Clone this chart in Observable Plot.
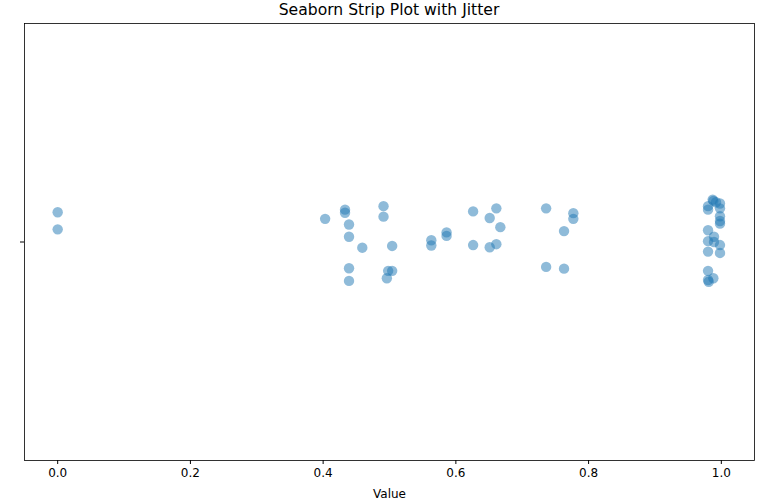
<!DOCTYPE html>
<html>
<head>
<meta charset="utf-8">
<script src="https://cdn.jsdelivr.net/npm/d3@7"></script>
<script src="https://cdn.jsdelivr.net/npm/@observablehq/plot@0.6"></script>
<style>
  html, body { margin: 0; padding: 0; background: #fff; }
  #title { height: 22px; width: 761px; position: relative; font-family: "DejaVu Sans", sans-serif; font-size: 15.6px; color: #000; }
  #title span { position: absolute; left: 389px; top: 1px; transform: translateX(-50%); white-space: nowrap; }
  svg { display: block; }
</style>
</head>
<body>
<div id="title"><span id="titletext"></span></div>
<div id="chart"></div>
<script>
const title = "Seaborn Strip Plot with Jitter";
const xLabel = "Value";
const xTicks = [0, 0.2, 0.4, 0.6, 0.8, 1.0];
const values = [
  0.000, 0.000, 0.403, 0.433, 0.433, 0.439, 0.439, 0.459, 0.439, 0.439,
  0.491, 0.491, 0.504, 0.498, 0.504, 0.496, 0.563, 0.563, 0.586, 0.586,
  0.626, 0.626, 0.661, 0.651, 0.667, 0.651, 0.661, 0.736, 0.736, 0.777,
  0.777, 0.763, 0.763, 0.987, 0.988, 0.980, 0.980, 0.998, 0.998, 0.992,
  0.998, 0.998, 0.998, 0.980, 0.989, 0.980, 0.989, 0.998, 0.980, 0.998,
  0.980, 0.980, 0.988, 0.981
];
const jitter = [
  -0.068, -0.029, -0.053, -0.074, -0.067, -0.040, -0.012, 0.013, 0.060, 0.089,
  -0.082, -0.058, 0.009, 0.066, 0.066, 0.083, -0.004, 0.008, -0.022, -0.014,
  -0.070, 0.007, -0.077, -0.055, -0.034, 0.012, 0.005, -0.077, 0.057, -0.066,
  -0.053, -0.025, 0.061, -0.097, -0.094, -0.082, -0.074, -0.088, -0.077, -0.091,
  -0.059, -0.048, -0.042, -0.027, -0.012, -0.002, 0.000, 0.007, 0.022, 0.025,
  0.066, 0.087, 0.083, 0.091
];

document.getElementById("titletext").textContent = title;
const data = values.map((v, i) => ({value: v, j: jitter[i]}));

const chart = Plot.plot({
  width: 761,
  height: 479,
  marginTop: 1,
  marginLeft: 24,
  marginRight: 7,
  marginBottom: 41,
  style: {fontFamily: "DejaVu Sans, sans-serif", fontSize: "12px", color: "#000", background: "#fff"},
  x: {domain: [-0.05, 1.05]},
  y: {domain: [-0.5, 0.5], reverse: true},
  marks: [
    Plot.frame({stroke: "#000", strokeWidth: 0.8}),
    Plot.axisX({ticks: xTicks, tickFormat: d3.format(".1f"), tickSize: 4, tickPadding: 4, fontSize: 12,
                label: xLabel, labelAnchor: "center", labelArrow: "none", labelOffset: 37}),
    Plot.axisY({ticks: [0], tickFormat: () => "", tickSize: 4, label: null}),
    Plot.dot(data, {x: "value", y: "j", r: 5.2, fill: "#1f77b4", fillOpacity: 0.5, stroke: "none"})
  ]
});
document.getElementById("chart").appendChild(chart);
</script>
</body>
</html>
